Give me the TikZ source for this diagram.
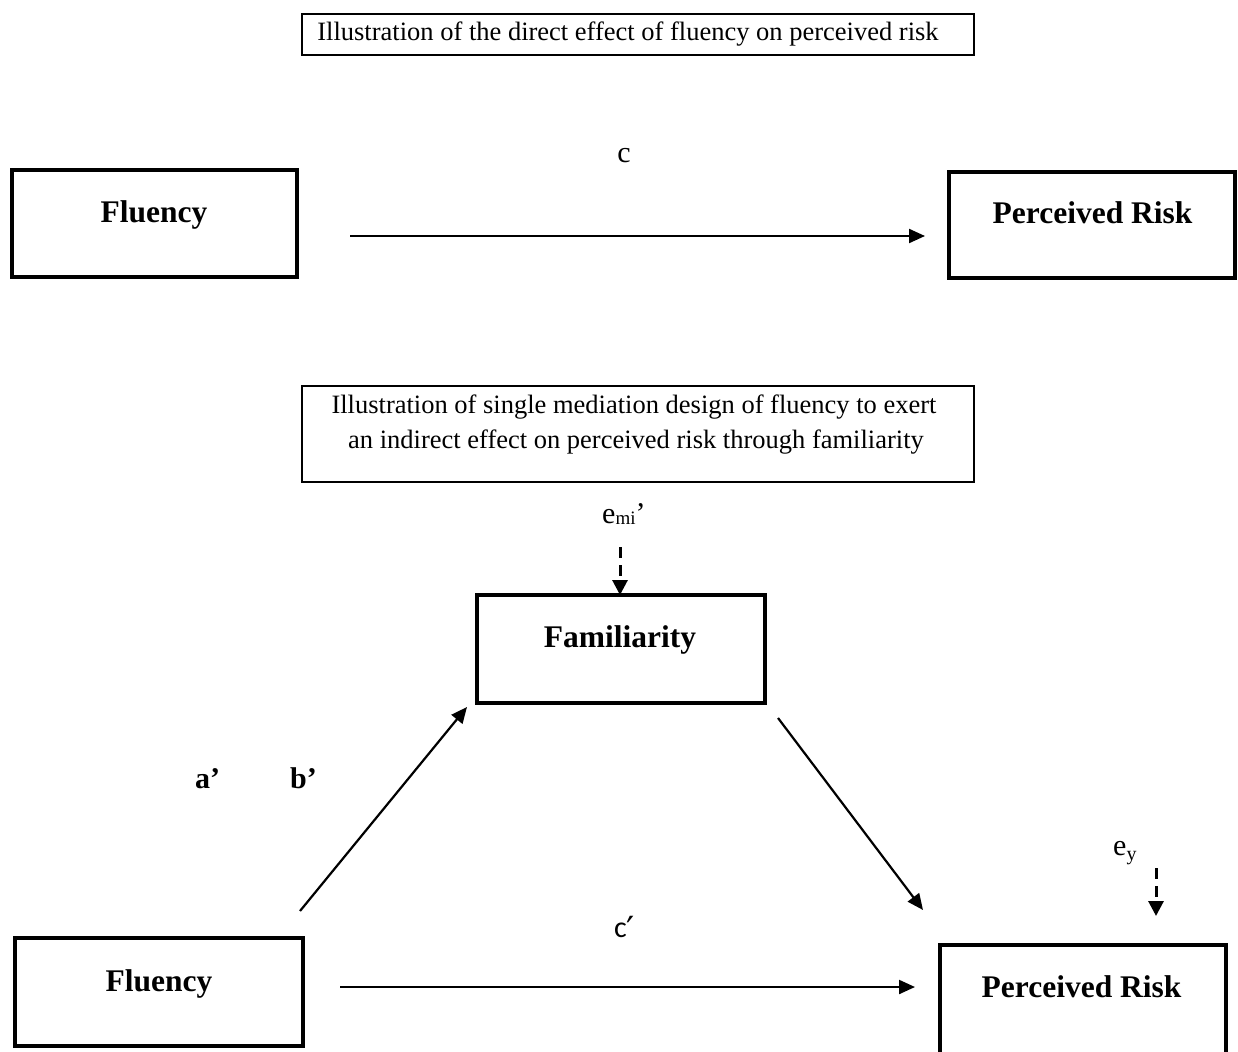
\documentclass[tikz,border=0pt]{standalone}
\usepackage{fontspec}
\setmainfont{Liberation Serif}
\newfontfamily\primefont{Carlito}
\newfontfamily\symfont{DejaVu Sans}
\usetikzlibrary{arrows.meta}

\begin{document}
\begin{tikzpicture}[x=1pt,y=-1pt,
  varbox/.style={draw, line width=3.4pt, inner sep=0pt},
  titlebox/.style={draw, line width=1.3pt, inner sep=0pt},
  lbl/.style={font=\fontsize{31.5}{36}\selectfont\bfseries, anchor=base, inner sep=0pt},
  ttl/.style={font=\fontsize{26.5}{32}\selectfont, anchor=base, inner sep=0pt},
  coef/.style={font=\fontsize{30}{34}\selectfont, anchor=base west, inner sep=0pt},
  effect/.style={line width=2.2pt, -{Triangle[length=16pt,width=14pt]}},
  errarrow/.style={line width=3pt, dash pattern=on 11pt off 7pt, -{Triangle[length=15pt,width=15pt]}},
]
\clip (0,0) rectangle (1238,1051);
\fill[white] (0,0) rectangle (1238,1051);

% ---- direct effect model ----
\node[titlebox, minimum width=672pt, minimum height=41pt] (ttlA) at (638,34.5) {};
\node[ttl] (ttlAtext) at (628,41) {Illustration of the direct effect of fluency on perceived risk};

\node[varbox, minimum width=285pt, minimum height=107pt] (fluA) at (154.5,223.5) {};
\node[lbl] (fluAtext) at (154,222) {Fluency};
\node[varbox, minimum width=286pt, minimum height=106pt] (riskA) at (1092,225) {};
\node[lbl] (riskAtext) at (1092.5,223) {Perceived Risk};

\coordinate (cA1) at (350,236);
\coordinate (cA2) at (925,236);
\draw[effect] (cA1) -- (cA2);
\node[coef, anchor=base] (cA) at (624,163) {c};

% ---- single mediation model ----
\node[titlebox, minimum width=672pt, minimum height=96pt] (ttlB) at (638,434) {};
\node[ttl] (ttlBtext1) at (634,413) {Illustration of single mediation design of fluency to exert};
\node[ttl] (ttlBtext2) at (636,448) {an indirect effect on perceived risk through familiarity};

\node[varbox, minimum width=288pt, minimum height=108pt] (fam) at (621,649) {};
\node[lbl] (famtext) at (620,647) {Familiarity};

\node[varbox, minimum width=288pt, minimum height=108pt] (fluB) at (159,992) {};
\node[lbl] (fluBtext) at (159,991) {Fluency};

\node[varbox, minimum width=286pt, minimum height=120pt] (riskB) at (1083,1005) {};
\node[lbl] (riskBtext) at (1081.5,997) {Perceived Risk};

% error terms
\node[coef] (emi) at (602,523) {e\raisebox{-1pt}{\fontsize{19}{19}\selectfont mi}’};
\coordinate (emi1) at (620,547);
\coordinate (emi2) at (620,595);
\draw[errarrow] (emi1) -- (emi2);

\node[coef] (ey) at (1113,855) {e\raisebox{-5pt}{\fontsize{20}{20}\selectfont y}};
\coordinate (ey1) at (1156,868);
\coordinate (ey2) at (1156,916);
\draw[errarrow] (ey1) -- (ey2);

% paths
\coordinate (aS) at (300,911);
\coordinate (aE) at (467,707);
\draw[effect] (aS) -- (aE);
\coordinate (bS) at (778,718);
\coordinate (bE) at (923,910);
\draw[effect] (bS) -- (bE);
\coordinate (cB1) at (340,987);
\coordinate (cB2) at (915,987);
\draw[effect] (cB1) -- (cB2);

\node[coef, font=\fontsize{30}{34}\selectfont\bfseries] (ap) at (195,788) {a’};
\node[coef, font=\fontsize{30}{34}\selectfont\bfseries] (bp) at (290,788) {b’};
\node[coef, font=\fontsize{30}{34}\selectfont\primefont] (cp) at (614,937) {c\kern-0.5pt\raisebox{-5pt}{\symfont\fontsize{36}{36}\selectfont ′}};
\end{tikzpicture}
\end{document}
